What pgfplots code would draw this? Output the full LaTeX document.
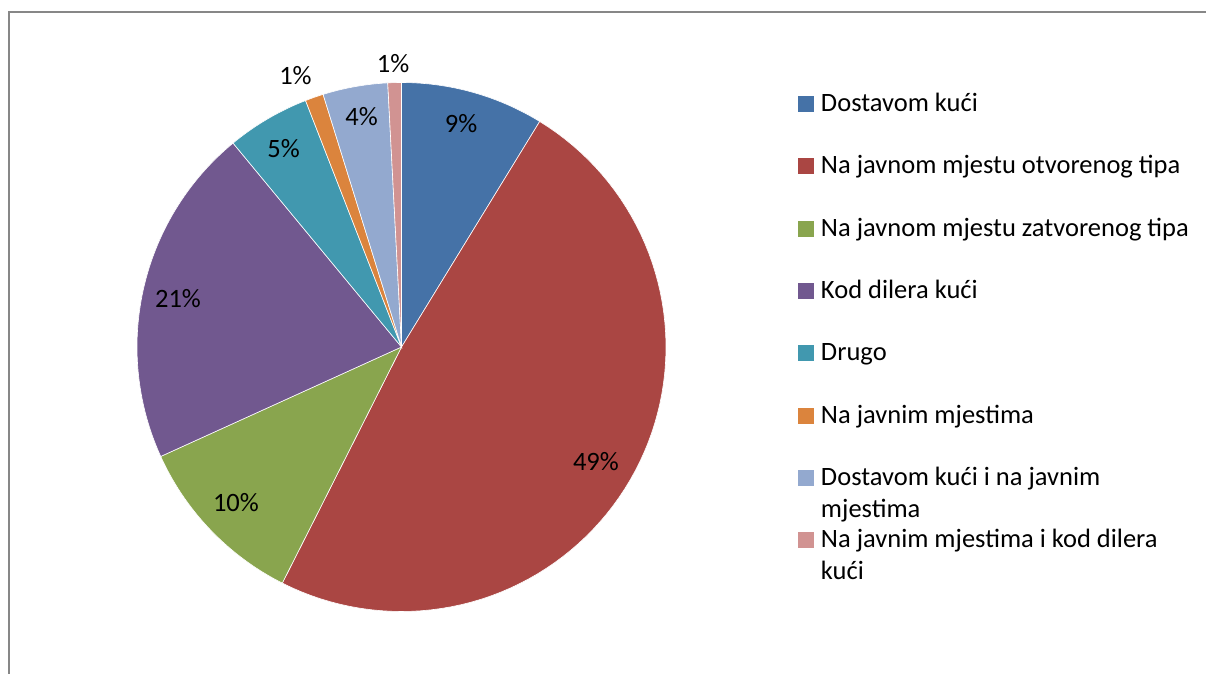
\documentclass[border=0pt]{standalone}
\usepackage{pgfplots}
\pgfplotsset{compat=1.18}
\usepackage{fontspec}
\setmainfont{Carlito}
\definecolor{c1}{HTML}{4572A7}
\definecolor{c2}{HTML}{AA4643}
\definecolor{c3}{HTML}{89A54E}
\definecolor{c4}{HTML}{71588F}
\definecolor{c5}{HTML}{4198AF}
\definecolor{c6}{HTML}{DB843D}
\definecolor{c7}{HTML}{93A9CF}
\definecolor{c8}{HTML}{D19392}
\definecolor{frame}{HTML}{878787}
% slice: colour, cumulative share before the slice, share (percent)
\newcommand\slice[3]{%
  \addplot[fill=#1, draw=white, line width=0.6pt, domain={90-3.6*(#2+#3)}:{90-3.6*(#2)}, samples=80, variable=\t]
    ({cos(\t)},{sin(\t)}) -- (axis cs:0,0) -- cycle;
}
\begin{document}
\begin{tikzpicture}[x=1pt,y=1pt,font=\fontsize{26.5}{32}\selectfont]
\useasboundingbox (0,0) rectangle (1206,673);
\draw[frame, line width=2.2pt] (9,-10) -- (9,661) -- (1215,661);
\begin{axis}[
  at={(401.5pt,326pt)}, anchor=center,
  scale only axis, width=529pt, height=529pt,
  xmin=-1, xmax=1, ymin=-1, ymax=1,
  hide axis, clip=false,
  legend style={at={(1.2495,0.977)}, anchor=north west, draw=none, fill=none,
    inner sep=0pt, outer sep=0pt, row sep=39.3pt, column sep=7pt,
    font=\fontsize{26.5}{32}\selectfont,
    cells={anchor=base west},
    nodes={inner sep=0pt, text height=17pt, text depth=6pt}},
  legend image code/.code={\fill[#1, draw=none] (0pt,-0.5pt) rectangle (16pt,15.5pt);},
]
\slice{c1}{0}{8.75}
\addlegendentry{Dostavom kući}
\slice{c2}{8.75}{48.69}
\addlegendentry{Na javnom mjestu otvorenog tipa}
\slice{c3}{57.44}{10.77}
\addlegendentry{Na javnom mjestu zatvorenog tipa}
\slice{c4}{68.21}{20.80}
\addlegendentry{Kod dilera kući}
\slice{c5}{89.01}{5.08}
\addlegendentry{Drugo}
\slice{c6}{94.09}{1.12}
\addlegendentry{Na javnim mjestima}
\slice{c7}{95.21}{3.96}
\addlegendentry{\begin{tabular}[t]{@{}l@{}}Dostavom kući i na javnim\\ mjestima\end{tabular}}
\slice{c8}{99.17}{0.83}
\addlegendentry{\begin{tabular}[t]{@{}l@{}}Na javnim mjestima i kod dilera\\ kući\end{tabular}}
\node at (axis cs:0.225,0.843) {9\%};
\node at (axis cs:0.735,-0.435) {49\%};
\node at (axis cs:-0.626,-0.590) {10\%};
\node at (axis cs:-0.845,0.1815) {21\%};
\node at (axis cs:-0.446,0.752) {5\%};
\node at (axis cs:-0.401,1.028) {1\%};
\node at (axis cs:-0.151,0.870) {4\%};
\node at (axis cs:-0.032,1.070) {1\%};
\end{axis}
\end{tikzpicture}
\end{document}
